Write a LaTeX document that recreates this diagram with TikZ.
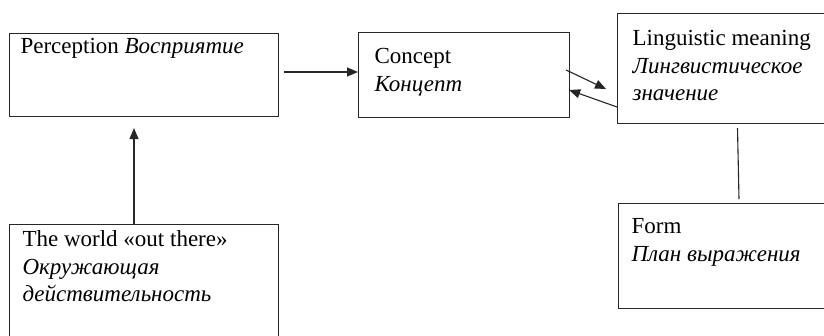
\documentclass[tikz,border=0pt]{standalone}
\usepackage{fontspec}
\setmainfont{Liberation Serif}
\usetikzlibrary{arrows.meta,calc}
\newcommand\boxtxt[5]{\parbox[t][#2][t]{#1}{\raggedright\leftskip=#3\relax\noindent\rule{0pt}{#4}#5}}
\tikzset{
  box/.style={draw=black!85, line width=1.1pt, inner sep=0pt, anchor=north west,
    font=\fontsize{23}{27.5}\selectfont, text=black},
  conn/.style={draw=black!85, line width=1.1pt},
  arr/.style={conn, -{Triangle[length=11pt,width=9pt]}}
}
\begin{document}
\begin{tikzpicture}[x=1pt,y=-1pt]
\useasboundingbox (0,0) rectangle (824,335);
\fill[white] (0,0) rectangle (824,335);
\node[box] (p) at (9,33) {\boxtxt{269pt}{83pt}{11pt}{20pt}{Perception \textit{Восприятие}}};
\node[box] (c) at (358,32) {\boxtxt{211pt}{85pt}{16pt}{31pt}{Concept\\\textit{Концепт}}};
\node[box] (l) at (617,13) {\boxtxt{213pt}{110pt}{15pt}{32pt}{Linguistic meaning\\\textit{Лингвистическое}\\\textit{значение}}};
\node[box] (w) at (9,224) {\boxtxt{269pt}{121pt}{13pt}{22pt}{The world «out there»\\\textit{Окружающая}\\\textit{действительность}}};
\node[box] (f) at (618,203) {\boxtxt{212pt}{105pt}{13pt}{30pt}{Form\\\textit{План выражения}}};
% connectors
\draw[arr] ($(p.north east)+(5,39)$) -- ($(c.north west)+(0,40)$);
\draw[arr] ($(c.north east)+(-4,38)$) -- ($(l.north west)+(-11,76)$);
\draw[arr] ($(l.north west)+(0,94)$) -- ($(c.north east)+(-1,58)$);
\draw[conn] ($(l.south west)+(120.5,4)$) -- ($(f.north west)+(121,-4)$);
\draw[arr] ($(w.north west)+(125,0)$) -- ($(p.south west)+(125,11)$);
\end{tikzpicture}
\end{document}
